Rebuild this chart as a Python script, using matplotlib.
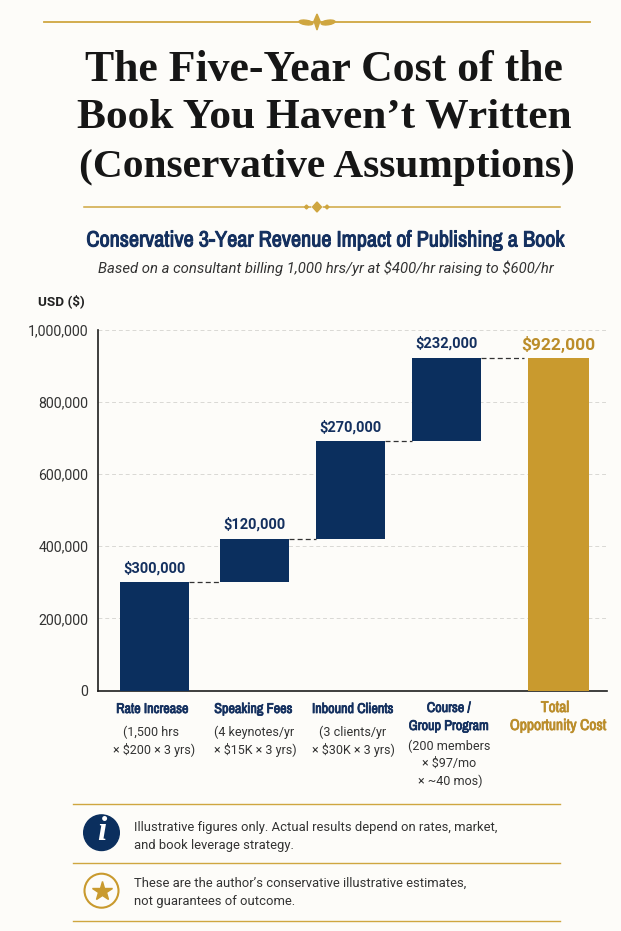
import matplotlib
matplotlib.use("Agg")
import matplotlib.pyplot as plt
import matplotlib.patheffects as pe
from matplotlib import font_manager as fm
from matplotlib.patches import Circle, Polygon, Ellipse

plt.rcParams["text.parse_math"] = False

# Waterfall figures
categories = ["Rate Increase", "Speaking Fees", "Inbound Clients", "Course /\nGroup Program", "Total\nOpportunity Cost"]
increments = [300000, 120000, 270000, 232000]
total_value = 922000
value_labels = ["$300,000", "$120,000", "$270,000", "$232,000"]
total_label = "$922,000"
y_ticks = [0, 200000, 400000, 600000, 800000, 1000000]
y_tick_labels = ["0", "200,000", "400,000", "600,000", "800,000", "1,000,000"]

# Horizontal slots of the columns, in figure pixels
slot_centers = [154.5, 254.5, 350.5, 446.5, 558.5]
slot_width = 69

NAVY = "#0b2f5e"
NAVY_TEXT = "#14305f"
GOLD = "#c99a2e"
GOLD_TEXT = "#bb8d2a"
RULE = "#cfa640"
PAPER = "#fdfcf9"

names = sorted({f.name for f in fm.fontManager.ttflist})
narrow = [n for n in names if "Narrow" in n or "Condensed" in n]
COND = narrow[0] if narrow else "Roboto"


def heavy(color, width=0.55):
    # The narrow face has no bold cut here, so thicken it with a stroke
    return [pe.withStroke(linewidth=width, foreground=color)]


W, H = 621, 931
fig = plt.figure(figsize=(W / 100, H / 100), dpi=100, facecolor=PAPER)

# Full-page layer addressed in pixels, for header, captions and footer
page = fig.add_axes([0, 0, 1, 1], zorder=0)
page.set_xlim(0, W)
page.set_ylim(H, 0)
page.axis("off")

# Chart axes
ax_left, ax_right, ax_top, ax_bottom = 98, 607, 329.5, 690.5
ax = fig.add_axes([ax_left / W, 1 - ax_bottom / H, (ax_right - ax_left) / W, (ax_bottom - ax_top) / H], zorder=1)
ax.patch.set_alpha(0)
ax.set_xlim(ax_left, ax_right)
ax.set_ylim(0, 1000000)

running = 0
for i, inc in enumerate(increments):
    ax.bar(slot_centers[i], inc, bottom=running, width=slot_width, color=NAVY, zorder=3)
    running += inc
    ax.annotate(value_labels[i], (slot_centers[i], running), xytext=(0, 5), textcoords="offset points",
                ha="center", va="bottom", fontsize=10.5, fontweight="bold", color=NAVY_TEXT, family="Roboto")
    right = slot_centers[i] + slot_width / 2
    left = slot_centers[i + 1] - slot_width / 2
    ax.plot([right, left], [running, running], color="#333333", lw=0.9, ls=(0, (4, 2.5)), zorder=2)
ax.bar(slot_centers[4], total_value, width=61, color=GOLD, zorder=3)
ax.annotate(total_label, (slot_centers[4], total_value), xytext=(0, 3), textcoords="offset points",
            ha="center", va="bottom", fontsize=12.5, fontweight="bold", color=GOLD_TEXT, family="Roboto")

ax.set_yticks(y_ticks, y_tick_labels, fontsize=10.2, color="#333333", family="Roboto")
ax.set_xticks([])
ax.tick_params(axis="y", length=0, pad=7)
ax.grid(axis="y", color="#d9d8d4", lw=0.7, ls=(0, (4, 3)), zorder=1)
ax.set_axisbelow(True)
for side in ("top", "right"):
    ax.spines[side].set_visible(False)
for side in ("left", "bottom"):
    ax.spines[side].set_color("#1e1e1e")
    ax.spines[side].set_linewidth(1.2)

page.text(38, 301, "USD ($)", fontsize=9.7, fontweight="bold", color="#222222", family="Roboto", va="center")

# Header rules and ornaments
page.plot([43.5, 590], [21.7, 21.7], color=RULE, lw=1.3)
page.add_patch(Ellipse((306, 22.5), 14, 4.5, angle=8, color=RULE))
page.add_patch(Ellipse((328, 22.5), 14, 4.5, angle=-8, color=RULE))
page.add_patch(Polygon([(317, 14), (320, 21), (317, 30), (314, 21)], color=RULE))
page.plot([83.5, 560], [207, 207], color=RULE, lw=1.1)
page.add_patch(Circle((317, 207), 5, color=PAPER, zorder=2))
page.add_patch(Polygon([(317, 202), (321.5, 207), (317, 212), (312.5, 207)], color=RULE, zorder=3))
for cx in (306.5, 327):
    page.add_patch(Polygon([(cx, 205), (cx + 2, 207), (cx, 209), (cx - 2, 207)], color=RULE, zorder=3))

title_lines = ["The Five-Year Cost of the", "Book You Haven\u2019t Written", "(Conservative Assumptions)"]
for line, x, y, size in zip(title_lines, [324, 324, 327], [70, 118, 167], [31.5, 31.2, 29.8]):
    page.text(x, y, line, ha="center", va="center", fontsize=size, fontweight="bold",
              color="#161616", family="Liberation Serif")

page.text(326, 240.5, "Conservative 3-Year Revenue Impact of Publishing a Book", ha="center", va="center",
          fontsize=16, color=NAVY_TEXT, family=COND, path_effects=heavy(NAVY_TEXT, 0.7))
page.text(326, 268, "Based on a consultant billing 1,000 hrs/yr at $400/hr raising to $600/hr", ha="center", va="center",
          fontsize=10.7, style="italic", color="#333333", family="Roboto")

# Column captions
caption_heads = [(152.5, 709, categories[0]), (253.5, 709, categories[1]), (353, 709, categories[2]),
                 (449, 708, "Course /"), (449, 726, "Group Program")]
for x, y, s in caption_heads:
    page.text(x, y, s, ha="center", va="center", fontsize=10.2, color=NAVY_TEXT, family=COND,
              path_effects=heavy(NAVY_TEXT))
for x, y, s in [(555, 708, "Total"), (558, 726, "Opportunity Cost")]:
    page.text(x, y, s, ha="center", va="center", fontsize=11.2, color=GOLD_TEXT, family=COND,
              path_effects=heavy(GOLD_TEXT))

caption_notes = [(151, 732, "(1,500 hrs"), (154, 750, "\u00d7 $200 \u00d7 3 yrs)"),
                 (254.5, 732, "(4 keynotes/yr"), (255, 750, "\u00d7 $15K \u00d7 3 yrs)"),
                 (353, 732, "(3 clients/yr"), (353, 750, "\u00d7 $30K \u00d7 3 yrs)"),
                 (449, 746, "(200 members"), (449, 763.5, "\u00d7 $97/mo"), (450, 781, "\u00d7 ~40 mos)")]
for x, y, s in caption_notes:
    page.text(x, y, s, ha="center", va="center", fontsize=9, color="#333333", family="Roboto")

# Footer notes
for y in (804, 862.7, 921):
    page.plot([73, 560], [y, y], color=RULE, lw=1)
page.add_patch(Circle((101.5, 832.7), 17.8, color=NAVY))
page.text(101.5, 832, "i", ha="center", va="center", fontsize=24, fontweight="bold", style="italic", color="white",
          family="Liberation Serif")
page.add_patch(Circle((101.5, 890.7), 17, facecolor="none", edgecolor=GOLD, lw=1.5))
page.plot([101.5], [890.7], marker="*", ms=15, color=GOLD, mec=GOLD)
footer = [(827, "Illustrative figures only. Actual results depend on rates, market,"),
          (846, "and book leverage strategy."),
          (883.5, "These are the author\u2019s conservative illustrative estimates,"),
          (902, "not guarantees of outcome.")]
for y, s in footer:
    page.text(134, y, s, ha="left", va="center", fontsize=9.4, color="#333333", family="Roboto")

fig.savefig("out.png", dpi=100, facecolor=PAPER)
